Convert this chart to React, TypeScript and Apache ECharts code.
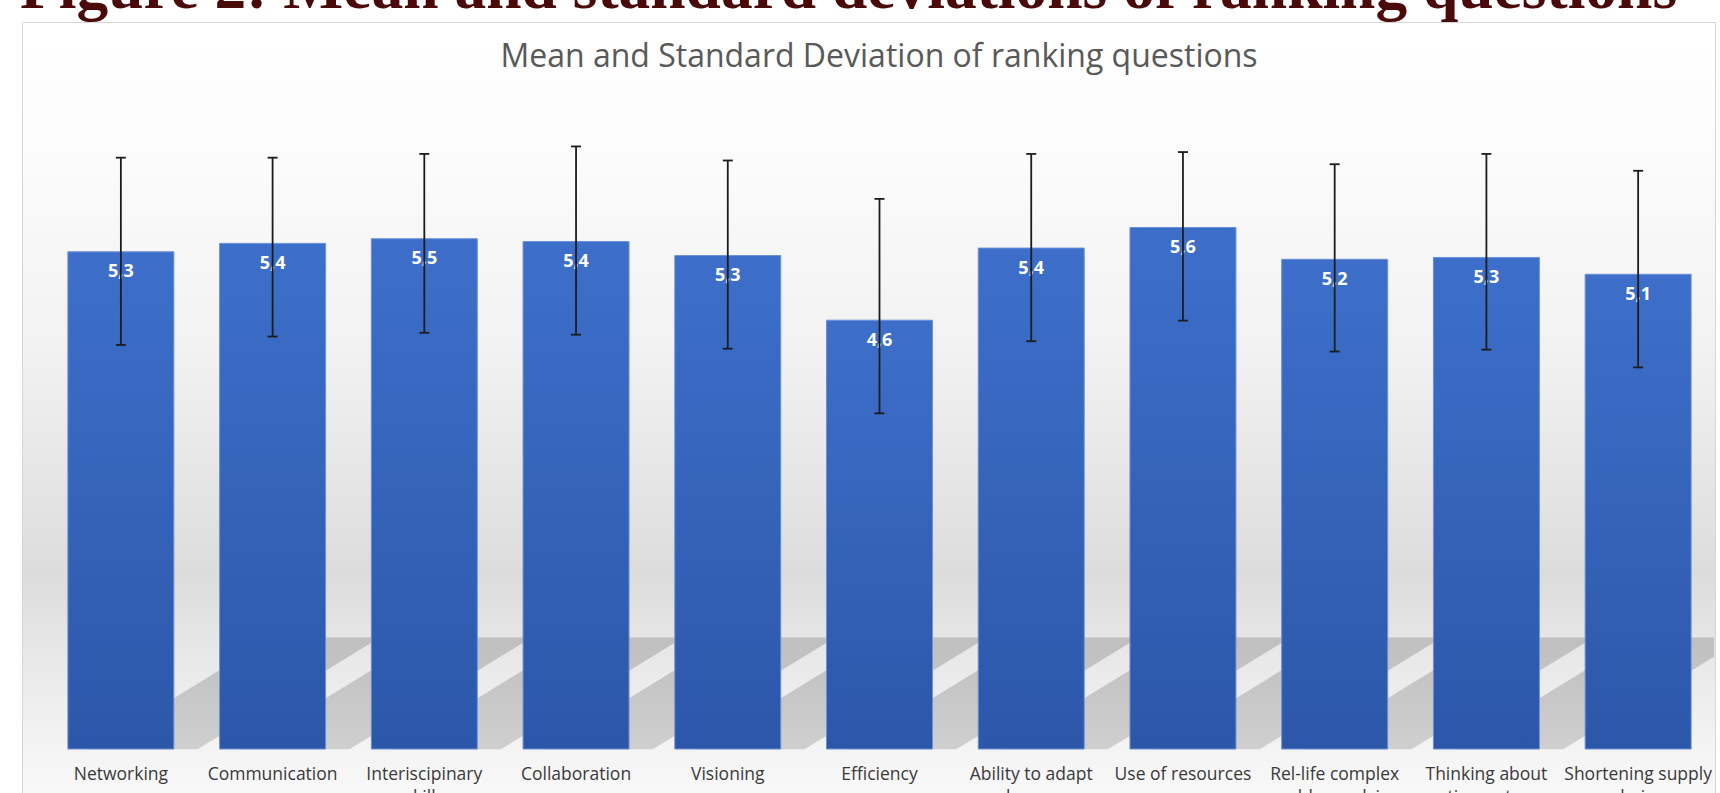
import React, { useEffect, useRef } from 'react';
import * as echarts from 'echarts';

const figureTitle = 'Figure 2: Mean and standard deviations of ranking questions';
const chartTitle = 'Mean and Standard Deviation of ranking questions';

const categories = [
  'Networking',
  'Communication',
  'Interiscipinary\nskills',
  'Collaboration',
  'Visioning',
  'Efficiency',
  'Ability to adapt\nchanges',
  'Use of resources',
  'Rel-life complex\nproblem solving',
  'Thinking about\nentire systems',
  'Shortening supply\nchains',
];
const means = [5.32, 5.41, 5.46, 5.43, 5.28, 4.59, 5.36, 5.58, 5.24, 5.26, 5.08];
const errLow = [4.32, 4.41, 4.45, 4.43, 4.28, 3.59, 4.36, 4.58, 4.25, 4.27, 4.08];
const errHigh = [6.32, 6.32, 6.36, 6.44, 6.29, 5.88, 6.36, 6.38, 6.25, 6.36, 6.18];
const yMin = 0;
const yMax = 7;

const BAR_RATIO = 0.705;

export default function App() {
  const ref = useRef<HTMLDivElement>(null);

  useEffect(() => {
    if (!ref.current) return;
    const chart = echarts.init(ref.current, null, { renderer: 'svg' });

    const bgGradient = new echarts.graphic.LinearGradient(0, 0, 0, 1, [
      { offset: 0, color: '#ffffff' },
      { offset: 0.17, color: '#fbfbfb' },
      { offset: 0.42, color: '#f1f1f1' },
      { offset: 0.69, color: '#dcdcdc' },
      { offset: 0.8, color: '#e9e9e9' },
      { offset: 0.9, color: '#f3f3f3' },
      { offset: 1, color: '#fbfbfb' },
    ]);

    const option: any = {
      animation: false,
      backgroundColor: '#ffffff',
      title: {
        text: chartTitle,
        left: 874,
        top: 33,
        textAlign: 'center',
        textStyle: {
          fontFamily: 'Open Sans',
          fontSize: 32,
          fontWeight: 'normal',
          color: '#595959',
        },
      },
      graphic: [
        {
          type: 'rect',
          z: -100,
          silent: true,
          shape: { x: 22.5, y: 22.5, width: 1693, height: 800 },
          style: { fill: bgGradient, stroke: '#d6d6d6', lineWidth: 1 },
        },
        {
          type: 'text',
          z: 100,
          silent: true,
          x: 20,
          y: -14,
          style: {
            text: figureTitle,
            fontFamily: '"Liberation Serif", serif',
            fontSize: 63.5,
            fontWeight: 'bold',
            fill: '#4a0a0a',
            verticalAlign: 'middle',
            align: 'left',
          },
        },
      ],
      grid: {
        left: 45,
        right: 6,
        top: 94,
        bottom: 43.5,
        containLabel: false,
        outerBoundsMode: 'none',
      },
      xAxis: {
        type: 'category',
        data: categories,
        axisLine: { show: false },
        axisTick: { show: false },
        splitLine: { show: false },
        axisLabel: {
          interval: 0,
          margin: 12,
          fontFamily: 'Open Sans',
          fontSize: 17.5,
          lineHeight: 23,
          color: '#3a3a3a',
        },
      },
      yAxis: {
        type: 'value',
        min: yMin,
        max: yMax,
        show: false,
        splitLine: { show: false },
      },
      series: [
        {
          name: 'shadow',
          type: 'custom',
          z: 1,
          silent: true,
          clip: true,
          data: means.map((v, i) => [i, v]),
          renderItem: (params: any, api: any) => {
            const i = api.value(0);
            if (i === 0) return null;
            const base = api.coord([i, 0]);
            const band = api.size([1, 0])[0];
            const half = (band * BAR_RATIO) / 2;
            const L = base[0] - half;
            const R = base[0] + half;
            const yb = base[1];
            const top = yb - 112;
            const pivot = yb - 79;
            const k = 1.63;
            const sTop = k * (pivot - top);
            const sBot = k * (pivot - yb);
            return {
              type: 'polygon',
              shape: {
                points: [
                  [L + sTop, top],
                  [R + sTop, top],
                  [R + sBot, yb],
                  [L + sBot, yb],
                ],
              },
              style: {
                fill: new echarts.graphic.LinearGradient(0, 0, 0, 1, [
                  { offset: 0, color: '#bfbfbf' },
                  { offset: 1, color: '#cfcfcf' },
                ]),
              },
            };
          },
        },
        {
          name: 'Mean',
          type: 'bar',
          z: 2,
          data: means,
          barCategoryGap: '29.5%',
          itemStyle: {
            color: new echarts.graphic.LinearGradient(0, 0, 0, 1, [
              { offset: 0, color: '#3d6fca' },
              { offset: 1, color: '#2c57a9' },
            ]),
            borderColor: '#6b90d6',
            borderWidth: 1,
          },
          label: {
            show: true,
            position: 'insideTop',
            distance: 10,
            color: '#ffffff',
            fontFamily: 'Open Sans',
            fontWeight: 'bold',
            fontSize: 18,
            lineHeight: 18,
            formatter: (p: any) => Number(p.value).toFixed(1).replace('.', ','),
          },
        },
        {
          name: 'Standard deviation',
          type: 'custom',
          z: 3,
          silent: true,
          data: errLow.map((lo, i) => [i, lo, errHigh[i]]),
          renderItem: (params: any, api: any) => {
            const i = api.value(0);
            const lo = api.coord([i, api.value(1)]);
            const hi = api.coord([i, api.value(2)]);
            const capHalf = 5;
            const st = { stroke: '#1c1c1c', lineWidth: 1.8 };
            return {
              type: 'group',
              children: [
                { type: 'line', shape: { x1: hi[0], y1: hi[1], x2: lo[0], y2: lo[1] }, style: st },
                { type: 'line', shape: { x1: hi[0] - capHalf, y1: hi[1], x2: hi[0] + capHalf, y2: hi[1] }, style: st },
                { type: 'line', shape: { x1: lo[0] - capHalf, y1: lo[1], x2: lo[0] + capHalf, y2: lo[1] }, style: st },
              ],
            };
          },
        },
      ],
    };

    chart.setOption(option);
    return () => {
      chart.dispose();
    };
  }, []);

  return (
    <div
      ref={ref}
      style={{ position: 'fixed', left: 0, top: 0, width: 1720, height: 793 }}
    />
  );
}
